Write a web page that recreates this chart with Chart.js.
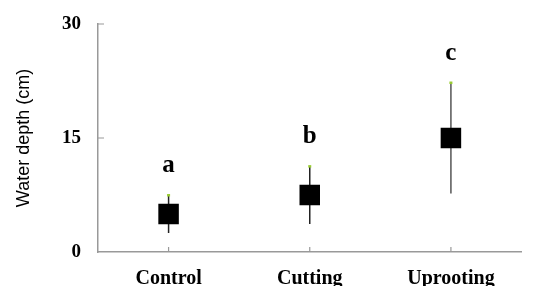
<!DOCTYPE html>
<html>
<head>
<meta charset="utf-8">
<script src="https://cdn.jsdelivr.net/npm/chart.js@4/dist/chart.umd.min.js"></script>
<style>
  html, body { margin: 0; padding: 0; background: #fff; overflow: hidden; }
  #wrap { width: 536px; height: 286px; }
</style>
</head>
<body>
<div id="wrap"><canvas id="depthChart"></canvas></div>
<script>
// Data
const treatments = ['Control', 'Cutting', 'Uprooting'];
const meanDepth = [5.0, 7.5, 15.0];
const errDepth = [2.5, 3.8, 7.3];
const groupLetters = ['a', 'b', 'c'];
const yTicks = [0, 15, 30];

const serif = "'Liberation Serif', 'Times New Roman', serif";
const sans = "'Liberation Sans', Arial, sans-serif";

// error bars under the squares, with the little green cap dot
const errorBars = {
    id: 'errorBars',
    beforeDatasetsDraw(chart) {
        const ctx = chart.ctx;
        const x = chart.scales.x;
        const y = chart.scales.y;
        ctx.save();
        meanDepth.forEach((m, i) => {
            const px = x.getPixelForValue(i);
            const top = y.getPixelForValue(m + errDepth[i]);
            const bot = y.getPixelForValue(m - errDepth[i]);
            ctx.strokeStyle = i === 2 ? '#555' : '#222';
            ctx.lineWidth = 1.5;
            ctx.beginPath();
            ctx.moveTo(px, top);
            ctx.lineTo(px, bot);
            ctx.stroke();
            ctx.fillStyle = '#9c3';
            ctx.fillRect(px - 1.5, top - 1, 3, 2.5);
        });
        ctx.restore();
    },
    afterDatasetsDraw(chart) {
        const ctx = chart.ctx;
        const x = chart.scales.x;
        const y = chart.scales.y;
        ctx.save();
        // group letters above the bars
        ctx.fillStyle = '#000';
        ctx.font = 'bold 25px ' + serif;
        ctx.textAlign = 'center';
        ctx.textBaseline = 'alphabetic';
        groupLetters.forEach((l, i) => {
            const px = x.getPixelForValue(i);
            const top = y.getPixelForValue(meanDepth[i] + errDepth[i]);
            ctx.fillText(l, px, top - 23);
        });
        // inward tick marks
        ctx.strokeStyle = '#999';
        ctx.lineWidth = 1.2;
        ctx.beginPath();
        yTicks.slice(1).forEach(v => {
            const py = y.getPixelForValue(v);
            ctx.moveTo(y.right, py);
            ctx.lineTo(y.right + 6, py);
        });
        treatments.forEach((t, i) => {
            const px = x.getPixelForValue(i);
            ctx.moveTo(px, x.top);
            ctx.lineTo(px, x.top - 5);
        });
        ctx.stroke();
        ctx.restore();
    }
};

const ctx = document.getElementById('depthChart').getContext('2d');
const depthChart = new Chart(ctx, {
    type: 'line',
    data: {
        labels: treatments,
        datasets: [{
            data: meanDepth,
            showLine: false,
            pointStyle: 'rect',
            pointRadius: 14.5,
            pointHoverRadius: 14.5,
            backgroundColor: '#000',
            borderColor: '#000',
            pointBorderWidth: 0
        }]
    },
    options: {
        responsive: true,
        maintainAspectRatio: false,
        animation: false,
        layout: { padding: { top: 24, left: 0, right: 0, bottom: 0 } },
        plugins: {
            legend: { display: false },
            tooltip: { enabled: false }
        },
        scales: {
            x: {
                offset: true,
                grid: { display: false, drawTicks: false },
                border: { color: '#999', width: 1.5 },
                ticks: {
                    color: '#000',
                    padding: 15,
                    maxRotation: 0,
                    font: { family: serif, size: 20, weight: 'bold' }
                },
                afterFit(scale) { scale.height = 34; }
            },
            y: {
                min: 0,
                max: 30,
                afterBuildTicks(scale) {
                    scale.ticks = yTicks.map(v => ({ value: v }));
                },
                grid: { display: false, drawTicks: false },
                border: { color: '#999', width: 1.5 },
                title: {
                    display: true,
                    text: 'Water depth (cm)',
                    color: '#000',
                    padding: { top: 13, bottom: 0 },
                    font: { family: sans, size: 18, weight: 'normal' }
                },
                ticks: {
                    color: '#000',
                    padding: 17,
                    font: { family: serif, size: 19, weight: 'bold' }
                },
                afterFit(scale) {
                    scale.width = 98;
                    scale.paddingTop = 0;
                    scale.paddingBottom = 0;
                }
            }
        }
    },
    plugins: [errorBars]
});
</script>
</body>
</html>
